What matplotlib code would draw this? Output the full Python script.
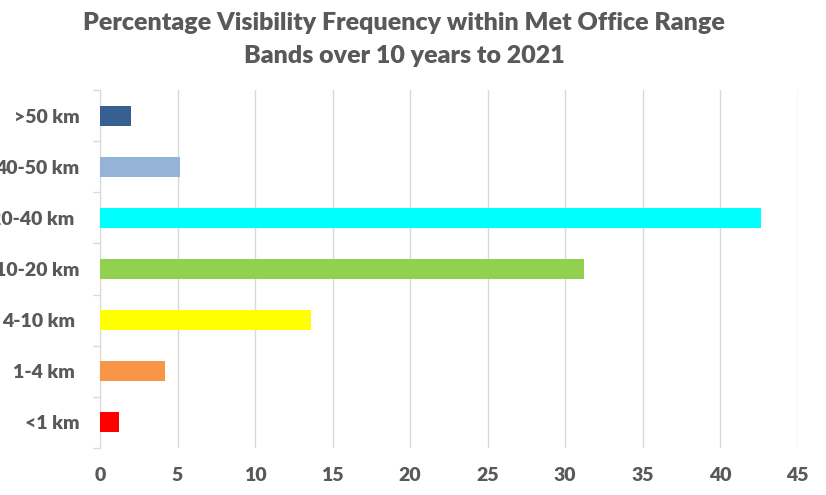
import matplotlib.pyplot as plt
import numpy as np

# visibility bands, bottom to top (some labels carry a trailing space, as in the source)
bands = ["<1 km", "1-4 km ", "4-10 km ", "10-20 km", "20-40 km ", "40-50 km", ">50 km"]
percent = [1.23, 4.2, 13.6, 31.2, 42.65, 5.16, 2.0]
bar_colors = ["#ff0000", "#f79646", "#ffff00", "#92d050", "#00ffff", "#95b3d7", "#366092"]
xticks = [0, 5, 10, 15, 20, 25, 30, 35, 40, 45]

txt = "#595959"
plt.rcParams["font.family"] = ["Lato", "DejaVu Sans"]
wt = "heavy"

fig = plt.figure(figsize=(8.26, 4.95), dpi=100)
ax = fig.add_axes([100 / 826, 1 - 448 / 495, (797.5 - 100) / 826, (448 - 90) / 495])

y = np.arange(len(bands))
ax.barh(y, percent, height=0.39, color=bar_colors, zorder=3)

ax.set_xlim(0, 45)
ax.set_ylim(-0.5, len(bands) - 0.5)
ax.set_xticks(xticks)
ax.set_xticklabels([str(t) for t in xticks], fontsize=14, fontweight=wt, color=txt)
ax.tick_params(axis="x", length=0, pad=14)
ax.grid(axis="x", color="#d9d9d9", linewidth=1, zorder=0)

ax.set_yticks(y)
ax.set_yticklabels(bands, fontsize=14, fontweight=wt, color=txt)
ax.tick_params(axis="y", which="major", length=0, pad=15)
ax.set_yticks(np.arange(len(bands) + 1) - 0.5, minor=True)
ax.tick_params(axis="y", which="minor", length=5, color="#d9d9d9", width=1)

for s in ["top", "right", "bottom"]:
    ax.spines[s].set_visible(False)
ax.spines["left"].set_color("#d9d9d9")

fig.text(404 / 826, 1 - 23 / 495, "Percentage Visibility Frequency within Met Office Range",
         ha="center", va="center", fontsize=18, fontweight=wt, color=txt)
fig.text(404 / 826, 1 - 56 / 495, "Bands over 10 years to 2021",
         ha="center", va="center", fontsize=18, fontweight=wt, color=txt)

fig.savefig("out.png", dpi=100)
